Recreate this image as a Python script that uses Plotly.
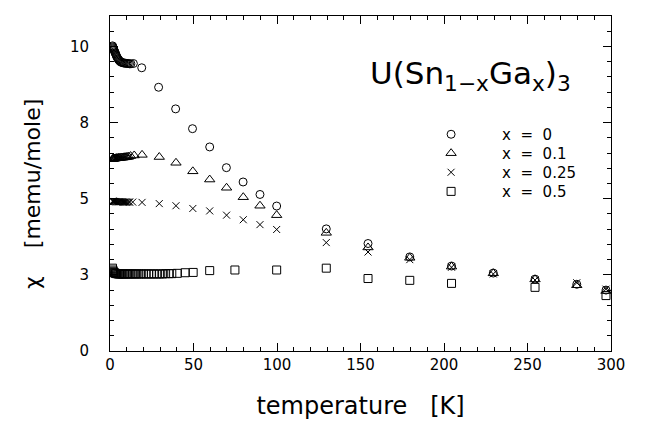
import plotly.graph_objects as go

# ---------------- data ----------------
T_x0 = [1.5, 1.7, 1.9, 2.1, 2.3, 2.5, 2.8, 3.1, 3.4, 3.7, 4.0, 4.4, 4.8, 5.2, 5.7,
        6.2, 6.8, 7.4, 8.0, 8.7, 9.4, 10.1, 10.9, 11.7, 12.5, 14.0, 19.0, 29.1,
        39.3, 49.4, 59.7, 69.7, 79.7, 89.8, 99.8, 129.5, 154.5, 179.5, 204.5,
        229.5, 254.5, 279.5, 297.0]
chi_x0 = [10.02, 9.99, 9.96, 9.93, 9.90, 9.87, 9.83, 9.79, 9.75, 9.71, 9.67, 9.63,
          9.59, 9.56, 9.53, 9.50, 9.48, 9.47, 9.46, 9.45, 9.45, 9.44, 9.44, 9.43,
          9.43, 9.44, 9.30, 8.66, 7.95, 7.30, 6.70, 6.02, 5.55, 5.14, 4.76, 4.01,
          3.53, 3.09, 2.79, 2.56, 2.36, 2.19, 2.00]

T_x01 = [1.5, 1.8, 2.1, 2.4, 2.8, 3.2, 3.6, 4.0, 4.5, 5.0, 5.5, 6.0, 6.6, 7.2, 7.8,
         8.4, 9.0, 9.7, 10.4, 11.2, 12.3, 14.5, 19.2, 29.5, 39.5, 49.6, 59.7, 69.8,
         79.8, 89.8, 99.8, 129.5, 154.5, 179.5, 204.5, 229.5, 254.5, 279.5, 297.0]
chi_x01 = [6.30, 6.31, 6.31, 6.32, 6.32, 6.32, 6.33, 6.33, 6.33, 6.34, 6.34, 6.34,
           6.35, 6.35, 6.35, 6.36, 6.36, 6.37, 6.37, 6.38, 6.40, 6.42, 6.44, 6.37,
           6.18, 5.90, 5.63, 5.36, 5.05, 4.77, 4.46, 3.88, 3.40, 3.06, 2.77, 2.55,
           2.35, 2.16, 1.97]

T_x025 = [1.5, 1.8, 2.1, 2.4, 2.8, 3.2, 3.6, 4.0, 4.5, 5.0, 5.5, 6.0, 6.6, 7.2, 7.8,
          8.4, 9.0, 9.7, 10.4, 11.2, 11.8, 13.6, 19.2, 29.5, 39.5, 49.6, 59.7, 69.8,
          79.8, 89.8, 99.8, 129.5, 154.5, 179.5, 204.5, 229.5, 254.5, 279.5, 297.0]
chi_x025 = [4.92, 4.92, 4.91, 4.91, 4.91, 4.91, 4.90, 4.90, 4.90, 4.90, 4.90, 4.90,
            4.90, 4.90, 4.89, 4.89, 4.89, 4.89, 4.89, 4.89, 4.89, 4.89, 4.88, 4.84,
            4.77, 4.68, 4.60, 4.46, 4.31, 4.15, 3.99, 3.56, 3.25, 3.00, 2.75, 2.53,
            2.33, 2.24, 2.03]

T_x05 = [1.5, 1.7, 1.9, 2.2, 2.5, 2.9, 3.3, 3.8, 4.3, 4.9, 5.5, 6.2, 7.0, 7.8, 8.6,
         9.5, 10.5, 11.5, 12.5, 13.6, 14.8, 16.0, 17.3, 18.7, 20.1, 21.6, 23.1, 24.7,
         26.3, 28.0, 29.7, 31.5, 33.3, 35.2, 37.0, 40.3, 45.0, 49.8, 59.7, 74.8,
         99.8, 129.5, 154.5, 179.5, 204.5, 254.5, 297.0]
chi_x05 = [2.72, 2.66, 2.62, 2.59, 2.57, 2.56, 2.55, 2.54, 2.54, 2.53, 2.53, 2.53,
           2.53, 2.53, 2.53, 2.53, 2.53, 2.53, 2.53, 2.53, 2.53, 2.53, 2.53, 2.53,
           2.53, 2.53, 2.53, 2.53, 2.53, 2.53, 2.53, 2.53, 2.54, 2.54, 2.54, 2.55,
           2.57, 2.58, 2.64, 2.66, 2.66, 2.72, 2.38, 2.32, 2.22, 2.09, 1.82]

series_names = ["x&nbsp;&nbsp;=&nbsp;&nbsp;0", "x&nbsp;&nbsp;=&nbsp;&nbsp;0.1",
                "x&nbsp;&nbsp;=&nbsp;&nbsp;0.25", "x&nbsp;&nbsp;=&nbsp;&nbsp;0.5"]

y_tickvals = [0, 2.5, 5, 7.5, 10]
y_ticktext = ["0", "3", "5", "8", "10"]
x_tickvals = [0, 50, 100, 150, 200, 250, 300]

FONT = "DejaVu Sans"

fig = go.Figure()
styles = [
    dict(symbol="circle-open", size=8),
    dict(symbol="triangle-up-open", size=9),
    dict(symbol="x-thin-open", size=7),
    dict(symbol="square-open", size=8),
]
legend_ids = ["legend", "legend2", "legend3", "legend4"]
for (xs, ys), name, st, lg in zip(
        [(T_x0, chi_x0), (T_x01, chi_x01), (T_x025, chi_x025), (T_x05, chi_x05)],
        series_names, styles, legend_ids):
    fig.add_trace(go.Scatter(
        x=xs, y=ys, mode="markers", name=name, legend=lg,
        marker=dict(symbol=st["symbol"], size=st["size"], color="black",
                    line=dict(width=1, color="black")),
    ))

legend_font = dict(family=FONT, size=15, color="black")
legend_common = dict(x=0.579, xanchor="left", yanchor="top",
                     bgcolor="rgba(0,0,0,0)", borderwidth=0,
                     font=legend_font, itemwidth=92)
legend_y = [0.6955, 0.639, 0.582, 0.525]

fig.update_layout(
    width=650, height=438,
    paper_bgcolor="white", plot_bgcolor="white",
    margin=dict(l=102, r=47, t=8, b=95),
    font=dict(family=FONT, color="black"),
    showlegend=True,
    legend=dict(y=legend_y[0], **legend_common),
    legend2=dict(y=legend_y[1], **legend_common),
    legend3=dict(y=legend_y[2], **legend_common),
    legend4=dict(y=legend_y[3], **legend_common),
)

fig.update_xaxes(
    range=[0, 300], showgrid=False, zeroline=False,
    showline=True, linecolor="black", linewidth=1, mirror="allticks",
    ticks="inside", ticklen=8, tickwidth=1, tickcolor="black",
    tickvals=x_tickvals, tickfont=dict(family=FONT, size=15, color="black"),
    minor=dict(dtick=10, ticks="inside", ticklen=4, tickcolor="black", showgrid=False),
    title=dict(text="temperature&nbsp;&nbsp;&nbsp;[K]",
               font=dict(family=FONT, size=24, color="black"), standoff=24),
)
fig.update_yaxes(
    range=[0, 11.0], showgrid=False, zeroline=False,
    showline=True, linecolor="black", linewidth=1, mirror="allticks",
    ticks="inside", ticklen=8, tickwidth=1, tickcolor="black",
    tickvals=y_tickvals, ticktext=y_ticktext, ticklabelstandoff=17,
    tickfont=dict(family=FONT, size=15, color="black"),
    minor=dict(dtick=0.5, ticks="inside", ticklen=4, tickcolor="black", showgrid=False),
)

fig.add_annotation(
    text="χ&nbsp;&nbsp;&nbsp;&nbsp;[memu/mole]", textangle=-90,
    xref="paper", yref="paper", x=-0.1537, y=0.469,
    xanchor="center", yanchor="middle", showarrow=False,
    font=dict(family=FONT, size=22, color="black"),
)
fig.add_annotation(
    text="U(Sn<sub>1−x</sub>Ga<sub>x</sub>)<sub>3</sub>",
    xref="paper", yref="paper", x=0.514, y=0.822,
    xanchor="left", yanchor="middle", showarrow=False,
    font=dict(family=FONT, size=31, color="black"),
)

fig.write_html("out.html")
